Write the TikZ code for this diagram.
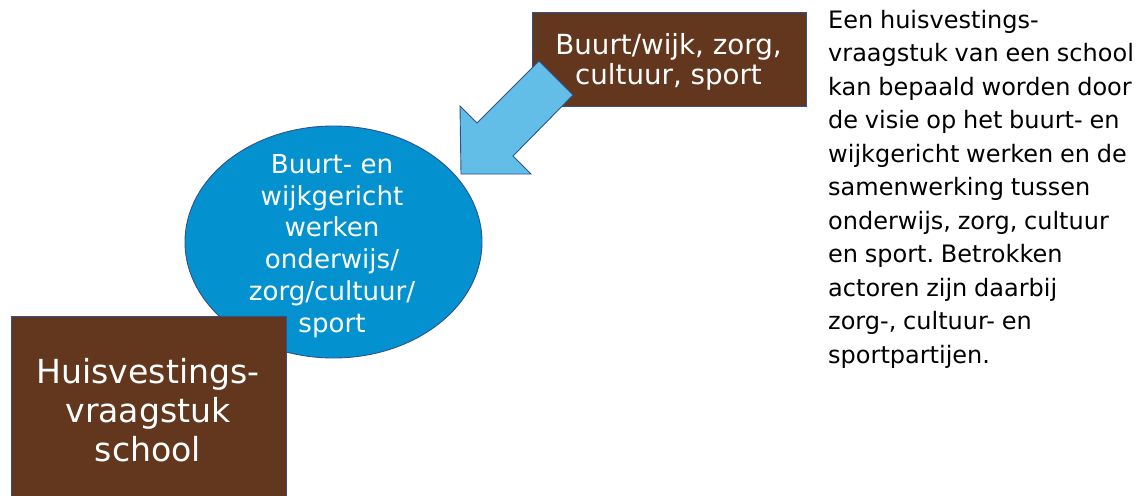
\documentclass[tikz,border=0pt]{standalone}
\usepackage{fontspec}
\setmainfont{DejaVu Sans}
\usetikzlibrary{shapes.geometric}
\definecolor{brownbox}{RGB}{99,55,30}
\definecolor{edgeblue}{RGB}{47,82,143}
\definecolor{ellblue}{RGB}{3,146,207}
\definecolor{arrowblue}{RGB}{98,190,230}
\newcommand{\bodyfont}{\fontsize{24}{33.5}\selectfont\spaceskip=0.28em\relax}
\tikzset{
  brownnode/.style={draw=edgeblue, line width=0.9pt, fill=brownbox, inner sep=0pt},
  ellnode/.style={ellipse, draw=edgeblue, line width=0.9pt, fill=ellblue, inner sep=0pt},
  whitetext/.style={text=white, align=center, inner sep=0pt},
  blockarrow/.style={draw=edgeblue, line width=0.9pt, fill=arrowblue, line join=miter},
  bodytext/.style={align=left, inner sep=0pt, text=black, anchor=north west}
}
\frenchspacing
\begin{document}
\begin{tikzpicture}[x=1pt,y=-1pt]
\useasboundingbox (0,0) rectangle (1137,495);
\fill[white] (0,0) rectangle (1137,495);
% ellipse
\node[ellnode, minimum width=297pt, minimum height=232pt] (ell) at (333.5,242) {};
\node[whitetext, font=\fontsize{26.1}{31.7}\selectfont] (elltext) at (332,246)
  {Buurt- en\\wijkgericht\\werken\\onderwijs/\\zorg/cultuur/\\sport};
% bottom box
\begin{scope}
\clip (0,0) rectangle (1137,495);
\node[brownnode, minimum width=275pt, minimum height=189pt] (school) at (148.5,410.5) {};
\end{scope}
\node[whitetext, font=\fontsize{33.1}{39}\selectfont] (schooltext) at (148,410.5)
  {Huisvestings-\\vraagstuk\\school};
% top box
\node[brownnode, minimum width=274pt, minimum height=94pt] (buurt) at (669,59) {};
\node[whitetext, font=\fontsize{27.7}{30}\selectfont] (buurttext) at (668.5,61.5)
  {Buurt/wijk, zorg,\\cultuur, sport};
% block arrow
\coordinate (a1) at (539,61);
\coordinate (a2) at (573,95);
\coordinate (a3) at (513,156);
\coordinate (a4) at (531,174);
\coordinate (tip) at (461,174);
\coordinate (a6) at (460,106);
\coordinate (a7) at (477,123);
\draw[blockarrow] (a1) -- (a2) -- (a3) -- (a4) -- (tip) -- (a6) -- (a7) -- cycle;
% right text
\node[bodytext, font=\bodyfont] (txt) at (828,10)
  {Een huisvestings-\\vraagstuk van een school\\kan bepaald worden door\\de visie op het buurt- en\\wijkgericht werken en de\\samenwerking tussen\\onderwijs, zorg, cultuur\\en sport. Betrokken\\actoren zijn daarbij\\zorg-, cultuur- en\\sportpartijen.};
\end{tikzpicture}
\end{document}
